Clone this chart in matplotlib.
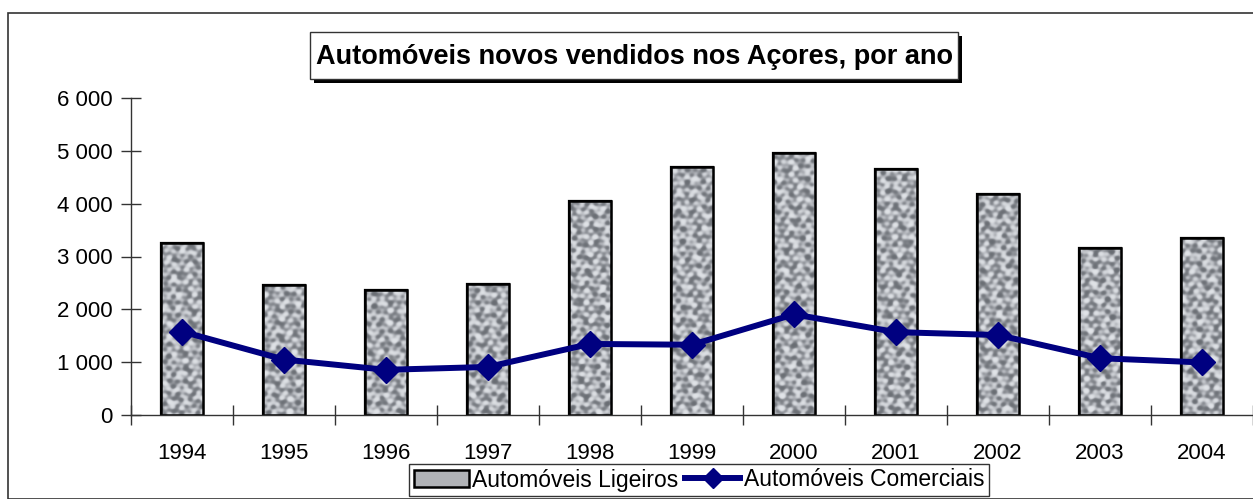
import numpy as np
import matplotlib.pyplot as plt
from matplotlib.patches import Rectangle, Patch
from matplotlib.lines import Line2D
from matplotlib.colors import LinearSegmentedColormap
from matplotlib.ticker import FuncFormatter

plt.rcParams['font.family'] = ['Liberation Sans', 'DejaVu Sans']

anos = ['1994', '1995', '1996', '1997', '1998', '1999', '2000', '2001', '2002', '2003', '2004']
ligeiros = [3260, 2465, 2370, 2480, 4050, 4685, 4965, 4660, 4185, 3160, 3355]
comerciais = [1580, 1050, 855, 910, 1345, 1330, 1905, 1568, 1514, 1075, 995]

titulo = 'Automóveis novos vendidos nos Açores, por ano'
nome_lig = 'Automóveis Ligeiros'
nome_com = 'Automóveis Comerciais'

W, H = 1253, 499
fig = plt.figure(figsize=(W / 100, H / 100), dpi=100)

def fx(px):
    return px / W

def fy(py):
    return 1 - py / H

# moldura exterior do gráfico
fig.patches.append(Rectangle((fx(8), 0), 1.2, fy(13), transform=fig.transFigure,
                             fill=False, ec='#333333', lw=1.2))

ax = fig.add_axes([fx(131), fy(415), 1 - fx(131), fy(98) - fy(415)])
x = np.arange(len(anos))
ax.set_xlim(-0.5, len(anos) - 0.5)
ax.set_ylim(0, 6000)

# textura "granito" (interferencia de ondas, deterministica)
gx, gy = np.meshgrid(np.arange(1122), np.arange(317))
tex = np.zeros(gx.shape)
for k, th, ph in [(0.55, 0.3, 0.0), (0.47, 1.4, 1.1), (0.62, 2.2, 2.3),
                  (0.38, 2.9, 0.7), (0.71, 0.9, 1.9), (0.43, 1.9, 2.8),
                  (0.93, 0.55, 0.4), (1.05, 1.65, 1.6), (0.86, 2.55, 2.6)]:
    tex += np.sin(k * (np.cos(th) * gx + np.sin(th) * gy) + ph)
tex = np.tanh(tex / 3.0)
cmap_gr = LinearSegmentedColormap.from_list('granito', ['#686c72', '#a9acb2', '#e2e5e9'])

barras = ax.bar(x, ligeiros, width=0.41, color='#a6a8ad', edgecolor='black', lw=1.6, zorder=2)
for b in barras:
    im = ax.imshow(tex, cmap=cmap_gr, vmin=-1, vmax=1, aspect='auto',
                   extent=(-0.5, len(anos) - 0.5, 0, 6000), zorder=2.1, interpolation='bilinear')
    im.set_clip_path(b)
    ax.add_patch(Rectangle((b.get_x(), b.get_y()), b.get_width(), b.get_height(), fill=False,
                           ec='black', lw=1.8, zorder=2.2))

ax.plot(x, comerciais, color='#000080', lw=4.3, marker='D', ms=13, zorder=3)

ax.set_yticks(range(0, 6001, 1000))
ax.yaxis.set_major_formatter(FuncFormatter(lambda v, p: f'{int(v):,}'.replace(',', ' ')))
ax.set_xticks(x)
ax.set_xticklabels(anos)
ax.set_xticks(np.arange(-0.5, len(anos)), minor=True)
ax.tick_params(axis='x', which='major', length=0, pad=20, labelsize=16)
ax.tick_params(axis='x', which='minor', direction='inout', length=14, width=1, color='#333333')
ax.tick_params(axis='y', direction='inout', length=14, width=1, color='#333333', pad=6, labelsize=16)
for s in ['top', 'right']:
    ax.spines[s].set_visible(False)
for s in ['left', 'bottom']:
    ax.spines[s].set_color('#333333')
    ax.spines[s].set_linewidth(1)
ax.set_facecolor('none')

# titulo com caixa e sombra
fig.patches.append(Rectangle((fx(314), fy(83)), fx(648), fy(32) - fy(79), transform=fig.transFigure,
                             fc='black', ec='black', lw=0, zorder=1))
fig.patches.append(Rectangle((fx(310), fy(79)), fx(648), fy(32) - fy(79), transform=fig.transFigure,
                             fc='white', ec='#333333', lw=1, zorder=2))
fig.text(fx(634), fy(57), titulo, ha='center', va='center', fontsize=19.5, fontweight='bold',
         color='black', zorder=3)

handles = [Patch(facecolor='#b0b2b6', edgecolor='black', lw=1.8),
           Line2D([], [], color='#000080', lw=4.3, marker='D', ms=10)]
leg = fig.legend(handles, [nome_lig, nome_com], loc='center', bbox_to_anchor=(fx(699), fy(480)),
                 ncol=2, fontsize=16.5, frameon=True, fancybox=False, edgecolor='black',
                 handlelength=2.4, handletextpad=0.15, columnspacing=0.3, borderpad=0.2,
                 borderaxespad=0)
leg.get_frame().set_linewidth(1)

fig.savefig('out.png', dpi=100)
